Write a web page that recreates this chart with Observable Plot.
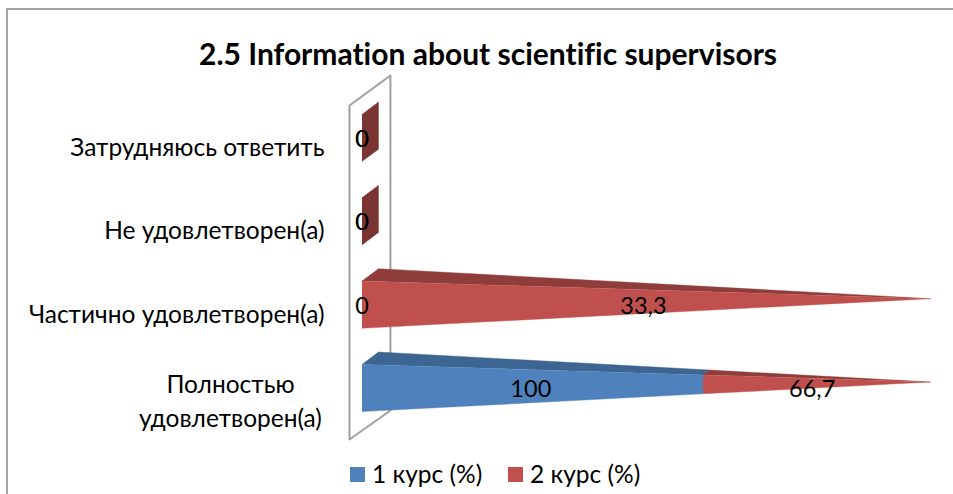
<!DOCTYPE html>
<html>
<head>
<meta charset="utf-8">
<script src="https://cdn.jsdelivr.net/npm/d3@7"></script>
<script src="https://cdn.jsdelivr.net/npm/@observablehq/plot@0.6"></script>
<style>
  html, body { margin: 0; padding: 0; background: #fff; }
  body { width: 953px; height: 494px; overflow: hidden; position: relative; font-family: Lato, "Noto Sans", sans-serif; color: #000; font-variant-ligatures: none; }
  #frame { position: absolute; left: 6px; top: 8px; width: 1000px; height: 600px; border: 2px solid #a3a3a3; box-sizing: border-box; }
  #title { position: relative; height: 70px; box-sizing: border-box; padding: 37px 0 0 23px; line-height: 32px; font-size: 30px; font-weight: 700; text-align: center; }
  #chart { position: relative; height: 385px; }
  #legend { position: relative; height: 39px; font-size: 24.5px; }
  #legend .sw { position: absolute; top: 12px; width: 15px; height: 15px; }
  #legend .lb { position: absolute; top: 6px; line-height: 26px; white-space: nowrap; }
</style>
</head>
<body>
<div id="frame"></div>
<div id="title"></div>
<div id="chart"></div>
<div id="legend"></div>
<script>
const titleText = "2.5 Information about scientific supervisors";
const categories = ["Полностью\nудовлетворен(а)", "Частично удовлетворен(а)", "Не удовлетворен(а)", "Затрудняюсь ответить"];
const course1 = [100, 0, 0, 0];
const course2 = [66.7, 33.3, 0, 0];
const seriesNames = ["1 курс (%)", "2 курс (%)"];
const frontColors = ["#4f81bd", "#c0504d"];
const topColors = ["#3c6591", "#8f3d3b"];
const sideColor = "#7a3432";

// 3D look of the Excel cone, in scale units
const halfHeight = 0.283, tipLift = 0.072, depthX = 2.9, depthY = 0.149;
const wall = {x0: -2.2, x1: 5, frontBottom: -0.618, backBottom: -0.27, frontTop: 3.39, backTop: 3.75};

const fmt = v => String(v).replace(".", ",");
const upper = (r, v) => r + halfHeight + (tipLift - halfHeight) * v / 100;
const lower = (r, v) => r - halfHeight + (tipLift + halfHeight) * v / 100;
const backX = v => v + depthX * (1 - v / 100);
const backY = (r, v) => upper(r, v) + depthY * (1 - v / 100);

const faces = {front: [[], []], top: [[], []], side: []};
const labels = [];
categories.forEach((c, r) => {
  const a = course1[r], b = course2[r], total = a + b;
  const edges = total ? [0, a / total * 100, 100] : [0, 0, 0];
  [0, 1].forEach(s => {
    const v0 = edges[s], v1 = edges[s + 1], id = `${r}-${s}`;
    if (v1 > v0) {
      faces.front[s].push(
        {id, x: v0, y: upper(r, v0)}, {id, x: v1, y: upper(r, v1)},
        {id, x: v1, y: lower(r, v1)}, {id, x: v0, y: lower(r, v0)});
      faces.top[s].push(
        {id, x: v0, y: upper(r, v0)}, {id, x: backX(v0), y: backY(r, v0)},
        {id, x: backX(v1), y: backY(r, v1)}, {id, x: v1, y: upper(r, v1)});
    }
    labels.push({x: (v0 + v1) / 2 * 0.99, y: r, text: fmt(s ? b : a)});
  });
  if (!total) {
    faces.side.push(
      {id: r, x: 0, y: upper(r, 0)}, {id: r, x: depthX, y: backY(r, 0)},
      {id: r, x: depthX, y: backY(r, 0) - 2 * halfHeight}, {id: r, x: 0, y: lower(r, 0)});
  }
});
const wallPath = [
  {x: wall.x0, y: wall.frontTop}, {x: wall.x1, y: wall.backTop},
  {x: wall.x1, y: wall.backBottom}, {x: wall.x0, y: wall.frontBottom}, {x: wall.x0, y: wall.frontTop}
];
const face = (data, fill) => Plot.line(data, {x: "x", y: "y", z: "id", fill, stroke: fill, strokeWidth: 0.4, curve: "linear"});

const plot = Plot.plot({
  width: 953, height: 385,
  marginLeft: 324, marginRight: 0, marginTop: 0, marginBottom: 0,
  style: {background: "transparent", overflow: "visible", fontFamily: 'Lato, "Noto Sans", sans-serif', fontVariantLigatures: "none"},
  x: {domain: [0, 100], range: [361.5, 930], axis: null},
  y: {domain: [0, 3], range: [317.5, 67.5], axis: null},
  marks: [
    Plot.line(wallPath, {x: "x", y: "y", stroke: "#a0a0a0", strokeWidth: 2, fill: "#fff"}),
    face(faces.side, sideColor),
    face(faces.top[0], topColors[0]), face(faces.front[0], frontColors[0]),
    face(faces.top[1], topColors[1]), face(faces.front[1], frontColors[1]),
    Plot.axisY([1, 2, 3], {anchor: "left", tickSize: 0, tickPadding: 0, dy: 10, fontSize: 24.5, fill: "#000", tickFormat: i => categories[i], label: null}),
    Plot.axisY([0], {anchor: "left", tickSize: 0, tickPadding: 0, dx: -94, dy: 11, fontSize: 24.5, fill: "#000", textAnchor: "middle", lineHeight: 1.39, tickFormat: i => categories[i], label: null}),
    Plot.text(labels, {x: "x", y: "y", dy: 1.5, text: "text", fontSize: 23.5, fill: "#000"})
  ]
});
document.getElementById("title").textContent = titleText;
document.getElementById("chart").appendChild(plot);
const lg = document.getElementById("legend");
[[350, 372], [508, 530]].forEach(([sx, tx], i) => {
  const s = document.createElement("div"); s.className = "sw"; s.style.left = sx + "px"; s.style.background = frontColors[i]; lg.appendChild(s);
  const t = document.createElement("div"); t.className = "lb"; t.style.left = tx + "px"; t.textContent = seriesNames[i]; lg.appendChild(t);
});
</script>
</body>
</html>
